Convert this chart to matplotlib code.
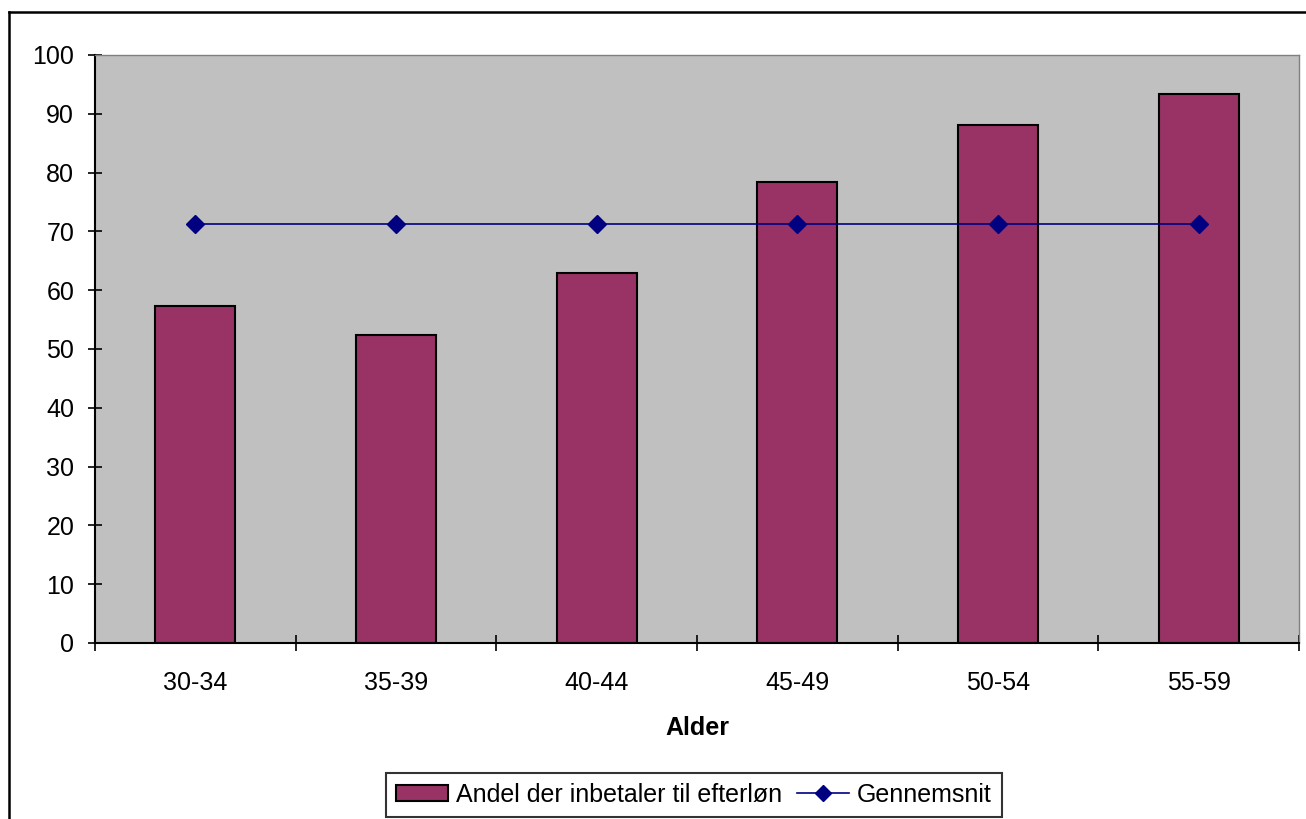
import matplotlib
matplotlib.use("Agg")
import matplotlib.pyplot as plt
from matplotlib.lines import Line2D

categories = ["30-34", "35-39", "40-44", "45-49", "50-54", "55-59"]
andel = [57.3, 52.4, 63.0, 78.4, 88.1, 93.4]
gennemsnit = [71.3, 71.3, 71.3, 71.3, 71.3, 71.3]
yticks = [0, 10, 20, 30, 40, 50, 60, 70, 80, 90, 100]

plt.rcParams['font.family'] = ['Liberation Sans', 'DejaVu Sans']

fig = plt.figure(figsize=(13.06, 8.19), dpi=100)
ax = fig.add_axes([95/1306, 1-643/819, (1299-95)/1306, (643-55)/819])
ax.set_facecolor('#C0C0C0')

x = list(range(len(categories)))
bars = ax.bar(x, andel, width=0.40, color='#993366', edgecolor='black', linewidth=1.5,
              label='Andel der inbetaler til efterløn', zorder=2)
line, = ax.plot(x, gennemsnit, color='#000080', linewidth=1.2, marker='D', markersize=9,
                label='Gennemsnit', zorder=3)

ax.set_xlim(-0.5, len(categories) - 0.5)
ax.set_ylim(0, 100)
ax.set_yticks(yticks)
ax.set_xticks(x)
ax.set_xticklabels(categories)
ax.set_xticks([i - 0.5 for i in range(len(categories) + 1)], minor=True)

ax.tick_params(axis='x', which='major', length=0, labelsize=18, pad=20)
ax.tick_params(axis='x', which='minor', direction='inout', length=11, width=1.2)
ax.tick_params(axis='y', direction='inout', length=10, width=1.2, labelsize=18, pad=10)

for s in ['left', 'bottom']:
    ax.spines[s].set_color('black')
    ax.spines[s].set_linewidth(1.5)
for s in ['top', 'right']:
    ax.spines[s].set_color('#808080')
    ax.spines[s].set_linewidth(1.0)

ax.set_xlabel('Alder', fontsize=18, fontweight='bold', labelpad=15)

leg = fig.legend(handles=[bars, line], loc='center', bbox_to_anchor=(694/1306, 1-794.5/819), ncol=2,
                 fontsize=18, frameon=True, fancybox=False, edgecolor='black',
                 handlelength=2.08, handleheight=0.6, handletextpad=0.32, columnspacing=0.6,
                 borderpad=0.4, borderaxespad=0, markerscale=0.85)
leg.get_frame().set_linewidth(1.5)

# outer chart frame (extends beyond canvas right and bottom)
fig.add_artist(Line2D([9/1306, 9/1306], [1-12/819, -0.01], color='black', linewidth=1.8,
                      transform=fig.transFigure))
fig.add_artist(Line2D([9/1306, 1.01], [1-12/819, 1-12/819], color='black', linewidth=1.8,
                      transform=fig.transFigure))

fig.savefig('out.png', dpi=100)
